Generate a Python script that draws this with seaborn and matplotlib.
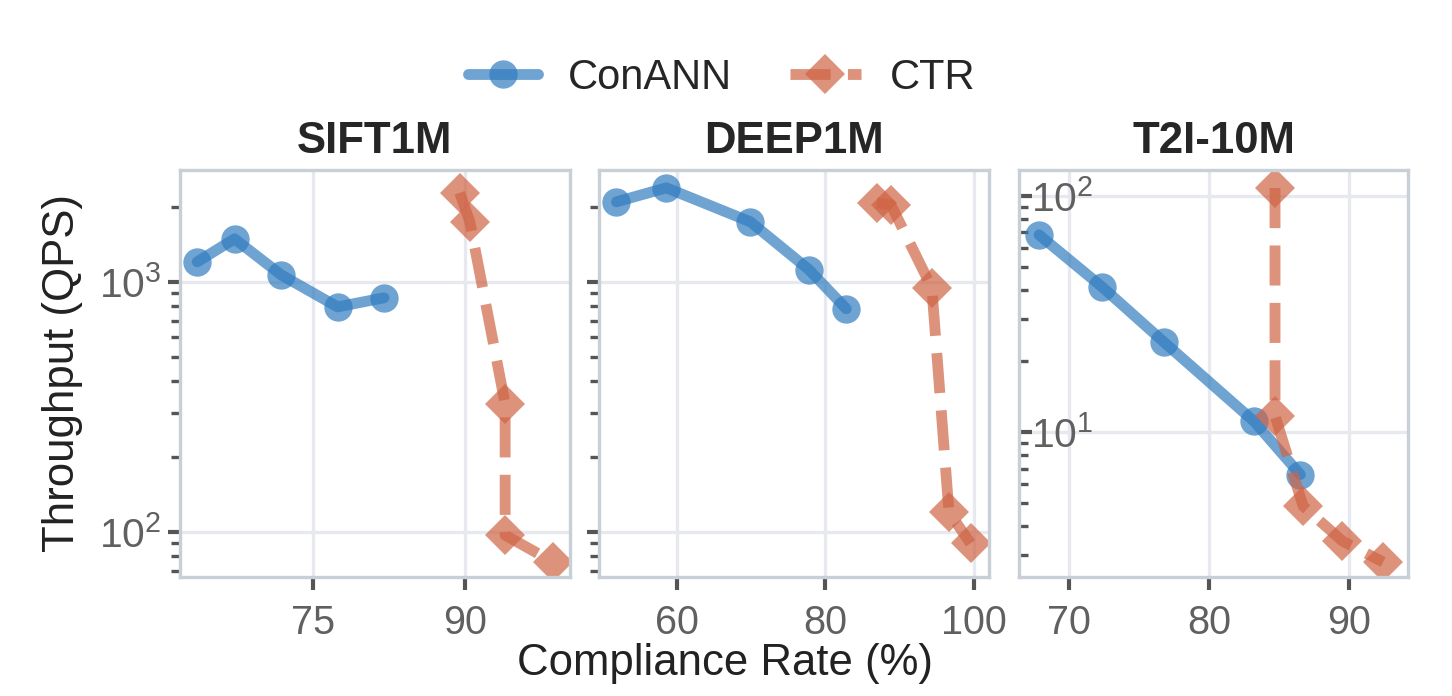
import pandas as pd
import matplotlib.pyplot as plt
import seaborn as sns
from matplotlib.lines import Line2D
from matplotlib.ticker import LogLocator, NullFormatter, FixedLocator

# Values (compliance rate %, throughput QPS)
datasets = ['SIFT1M', 'DEEP1M', 'T2I-10M']
methods = ['ConANN', 'CTR']

sift_conann_x = [63.5, 67.2, 71.8, 77.4, 82.0]
sift_conann_y = [1202, 1486, 1067, 794, 863]
sift_ctr_x = [89.5, 90.5, 94.0, 94.0, 98.7]
sift_ctr_y = [2270, 1738, 325, 97, 76]

deep_conann_x = [51.9, 58.6, 69.9, 77.8, 82.8]
deep_conann_y = [2089, 2377, 1738, 1117, 780]
deep_ctr_x = [86.9, 88.8, 94.3, 96.6, 99.5]
deep_ctr_y = [2070, 2032, 946, 120, 90]

t2i_conann_x = [67.9, 72.4, 76.8, 83.2, 86.5]
t2i_conann_y = [68.4, 41.1, 24.0, 11.1, 6.6]
t2i_ctr_x = [84.7, 84.7, 86.7, 89.5, 92.4]
t2i_ctr_y = [108, 11.7, 4.85, 3.45, 2.81]

xticks = {'SIFT1M': [75, 90], 'DEEP1M': [60, 80, 100], 'T2I-10M': [70, 80, 90]}
xlims = {'SIFT1M': (61.8, 100.4), 'DEEP1M': (49.6, 102.0), 'T2I-10M': (66.45, 94.2)}

series = {
    'SIFT1M': [(sift_conann_x, sift_conann_y), (sift_ctr_x, sift_ctr_y)],
    'DEEP1M': [(deep_conann_x, deep_conann_y), (deep_ctr_x, deep_ctr_y)],
    'T2I-10M': [(t2i_conann_x, t2i_conann_y), (t2i_ctr_x, t2i_ctr_y)],
}

rows = []
for ds in datasets:
    for m, (xs, ys) in zip(methods, series[ds]):
        for i, (x, y) in enumerate(zip(xs, ys)):
            rows.append({'dataset': ds, 'method': m, 'order': i, 'rate': x, 'qps': y})
df = pd.DataFrame(rows)

palette = {'ConANN': '#317cc0', 'CTR': '#cf6445'}
markers = {'ConANN': 'o', 'CTR': 'D'}
dashes = {'ConANN': '', 'CTR': (3.7, 1.6)}

sns.set_style('whitegrid', {
    'axes.edgecolor': '#c8cfd6',
    'grid.color': '#e7e9ee',
    'axes.linewidth': 1.1,
})
plt.rcParams['font.family'] = ['Liberation Sans', 'DejaVu Sans']
plt.rcParams['mathtext.fontset'] = 'custom'
plt.rcParams['mathtext.rm'] = 'Liberation Sans'
plt.rcParams['mathtext.default'] = 'regular'
plt.rcParams['grid.linewidth'] = 0.8

fig = plt.figure(figsize=(4.84, 2.32), dpi=300)
gs = fig.add_gridspec(1, 3, left=0.124, right=0.970, bottom=0.171, top=0.756, wspace=0.076)
ax1 = fig.add_subplot(gs[0])
ax2 = fig.add_subplot(gs[1], sharey=ax1)
ax3 = fig.add_subplot(gs[2])
axes = [ax1, ax2, ax3]

for ax, ds in zip(axes, datasets):
    sub = df[df['dataset'] == ds]
    sns.lineplot(data=sub, x='rate', y='qps', hue='method', style='method',
                 units='method', estimator=None, sort=False,
                 palette=palette, markers=markers, dashes=dashes,
                 linewidth=2.6, markersize=6.8, markeredgewidth=0,
                 alpha=0.7, legend=False, ax=ax)
    ax.set_yscale('log')
    ax.set_xlim(*xlims[ds])
    ax.set_xticks(xticks[ds])
    ax.set_title(ds, fontsize=10.5, fontweight='bold', color='#262626', pad=4)
    ax.set_xlabel('')
    ax.set_ylabel('')
    ax.grid(True, which='major')
    ax.grid(False, which='minor')
    ax.tick_params(axis='x', which='major', direction='out', length=3, width=1,
                   color='#555555', labelsize=9.5, labelcolor='#606060', pad=3.5, bottom=True)
    ax.tick_params(axis='y', which='major', length=3, width=1, color='#555555',
                   labelsize=9.8, labelcolor='#606060', left=True)
    ax.tick_params(axis='y', which='minor', length=2.2, width=0.8, color='#555555', left=True)
    for s in ax.spines.values():
        s.set_visible(True)

ax1.set_ylim(66, 2805)
ax1.yaxis.set_major_locator(FixedLocator([100, 1000]))
ax1.yaxis.set_minor_locator(LogLocator(base=10, subs=range(2, 10)))
ax1.yaxis.set_minor_formatter(NullFormatter())
ax1.tick_params(axis='y', which='both', direction='out')
ax1.tick_params(axis='y', which='major', pad=1.5)
ax2.tick_params(axis='y', which='both', direction='out', labelleft=False)

ax3.set_ylim(2.43, 129)
ax3.yaxis.set_major_locator(FixedLocator([10, 100]))
ax3.yaxis.set_minor_locator(LogLocator(base=10, subs=range(2, 10)))
ax3.yaxis.set_minor_formatter(NullFormatter())
ax3.tick_params(axis='y', which='both', direction='in')
ax3.tick_params(axis='y', which='major', pad=-3.0)
for lbl in ax3.get_yticklabels():
    lbl.set_horizontalalignment('left')

fig.text(0.043, 0.464, 'Throughput (QPS)', rotation=90, ha='center', va='center',
         fontsize=10.5, color='#222222')
fig.text(0.499, 0.046, 'Compliance Rate (%)', ha='center', va='center',
         fontsize=10.5, color='#222222')

handles = [
    Line2D([], [], color=palette['ConANN'], marker='o', linestyle='-', linewidth=2.6,
           markersize=6.8, markeredgewidth=0, alpha=0.7),
    Line2D([], [], color=palette['CTR'], marker='D', linestyle=(0, (3.7, 1.6)), linewidth=2.6,
           markersize=6.8, markeredgewidth=0, alpha=0.7),
]
fig.legend(handles, methods, loc='center', bbox_to_anchor=(0.497, 0.888), ncol=2,
           frameon=False, fontsize=10, handlelength=1.7, columnspacing=1.4, handletextpad=0.7)

fig.savefig('out.png', dpi=300)
